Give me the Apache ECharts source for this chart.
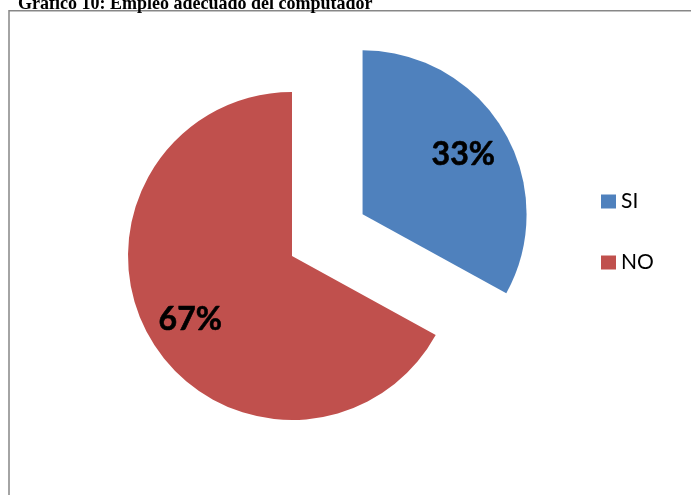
<!DOCTYPE html>
<html>
<head>
<meta charset="utf-8">
<script src="https://cdn.jsdelivr.net/npm/echarts@6/dist/echarts.min.js"></script>
<style>
  html, body { margin: 0; padding: 0; background: #ffffff; }
  #chart { width: 691px; height: 495px; }
</style>
</head>
<body>
<div id="chart"></div>
<script>
// Survey answers and their share of responses
const categories = ['SI', 'NO'];
const values = [33, 67];
const colors = ['#4F81BD', '#C0504D'];
const titleText = 'Gráfico 10: Empleo adecuado del computador';

const pieCenter = [292, 256];
const pieRadius = 164;
const explodeOffset = 82;

// The "SI" slice is pulled out of the pie
const sliceData = categories.map((name, i) => ({
  name: name,
  value: values[i],
  selected: i === 0,
  itemStyle: { color: colors[i] }
}));

const chart = echarts.init(document.getElementById('chart'), null, { renderer: 'canvas' });

chart.setOption({
  animation: false,
  backgroundColor: '#ffffff',
  graphic: [
    {
      type: 'text',
      x: 18,
      y: 4,
      style: {
        text: titleText,
        font: 'bold 18px "Liberation Serif", "DejaVu Serif", serif',
        fill: '#000000',
        verticalAlign: 'middle'
      },
      z: 10
    },
    {
      type: 'rect',
      shape: { x: 9, y: 10.75, width: 700, height: 520 },
      style: { fill: 'none', stroke: '#878787', lineWidth: 1.5 },
      z: 0
    }
  ],
  legend: {
    orient: 'vertical',
    left: 601,
    top: 191,
    padding: 0,
    itemGap: 40,
    itemWidth: 15,
    itemHeight: 14,
    icon: 'rect',
    data: categories,
    selectedMode: false,
    textStyle: {
      fontFamily: 'Lato, "Open Sans", sans-serif',
      fontSize: 21,
      lineHeight: 20,
      color: '#000000',
      padding: [0, 0, 0, 0]
    }
  },
  series: [
    {
      type: 'pie',
      center: pieCenter,
      radius: pieRadius,
      startAngle: 90,
      clockwise: true,
      selectedMode: 'single',
      selectedOffset: explodeOffset,
      silent: true,
      label: { show: false },
      labelLine: { show: false },
      itemStyle: { borderWidth: 0 },
      data: sliceData
    },
    {
      // transparent ring that carries the percentage labels further out
      type: 'pie',
      center: pieCenter,
      radius: [64, pieRadius],
      startAngle: 90,
      clockwise: true,
      selectedMode: 'single',
      selectedOffset: explodeOffset,
      silent: true,
      z: 5,
      itemStyle: { color: 'rgba(0,0,0,0)', borderWidth: 0 },
      label: {
        show: true,
        position: 'inside',
        formatter: '{d}%',
        offset: [-1, 4],
        fontFamily: 'Lato, "Open Sans", sans-serif',
        fontWeight: 'bold',
        fontSize: 32,
        color: '#000000',
        textBorderColor: '#000000',
        textBorderWidth: 0.6
      },
      labelLine: { show: false },
      data: categories.map((name, i) => ({
        name: name,
        value: values[i],
        selected: i === 0
      }))
    }
  ]
});
</script>
</body>
</html>
